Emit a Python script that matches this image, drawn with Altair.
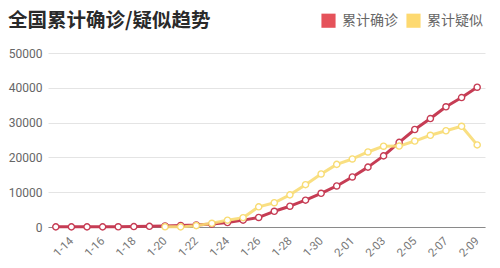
import altair as alt
import pandas as pd

dates = ["1-13", "1-14", "1-15", "1-16", "1-17", "1-18", "1-19", "1-20", "1-21", "1-22",
         "1-23", "1-24", "1-25", "1-26", "1-27", "1-28", "1-29", "1-30", "1-31",
         "2-01", "2-02", "2-03", "2-04", "2-05", "2-06", "2-07", "2-08", "2-09"]
confirmed = [41, 41, 41, 45, 62, 121, 198, 291, 440, 571, 830, 1287, 1975, 2744, 4515,
             5974, 7711, 9692, 11791, 14380, 17205, 20438, 24324, 28018, 31161, 34546,
             37198, 40171]
suspected = [None, None, None, None, None, None, None, 54, 37, 393, 1072, 1965, 2684,
             5794, 6973, 9239, 12167, 15238, 17988, 19544, 21558, 23214, 23260, 24702,
             26359, 27657, 28942, 23589]
series_names = ["累计确诊", "累计疑似"]
tick_dates = dates[1::2]
y_ticks = [0, 10000, 20000, 30000, 40000, 50000]

rows = []
for d, c, s in zip(dates, confirmed, suspected):
    rows.append({"date": d, "series": series_names[0], "value": c})
    if s is not None:
        rows.append({"date": d, "series": series_names[1], "value": s})
df = pd.DataFrame(rows)

line_colors = ["#c63c54", "#f8dc74"]
legend_colors = ["#e5525a", "#fdd561"]

x_enc = alt.X("date:O", sort=dates,
              scale=alt.Scale(type="point", padding=0.5),
              axis=alt.Axis(values=tick_dates, title=None, labelAngle=-45,
                            labelAlign="right", labelBaseline="middle",
                            labelPadding=12, ticks=False, domain=True,
                            domainColor="#8a8a8a", domainWidth=1.2,
                            labelColor="#777777", labelFontSize=11.5,
                            labelFont="Roboto", grid=False))
y_enc = alt.Y("value:Q", scale=alt.Scale(domain=[0, 50000], nice=False),
              axis=alt.Axis(values=y_ticks, title=None, ticks=False, domain=False,
                            labelColor="#666666", labelFontSize=12, labelFont="Roboto",
                            labelPadding=6, gridColor="#e4e4e4", format="d"))
stroke_enc = alt.Stroke("series:N", sort=series_names,
                        scale=alt.Scale(domain=series_names, range=line_colors),
                        legend=None)
fill_enc = alt.Fill("series:N", sort=series_names,
                    scale=alt.Scale(domain=series_names, range=legend_colors),
                    legend=alt.Legend(title=None, orient="none", legendX=273, legendY=-40,
                                      direction="horizontal", symbolType="square",
                                      symbolSize=200, symbolStrokeWidth=0,
                                      symbolOpacity=1,
                                      labelFontSize=14, labelColor="#666666",
                                      labelFont="Noto Sans CJK SC", columnPadding=8,
                                      labelOffset=6, padding=0))

base = alt.Chart(df).encode(x=x_enc, y=y_enc)

legend_layer = base.mark_square(size=0, opacity=0).encode(fill=fill_enc)
lines = base.mark_line(strokeWidth=3, strokeJoin="round").encode(
    stroke=stroke_enc,
    opacity=alt.Opacity("series:N", sort=series_names,
                        scale=alt.Scale(domain=series_names, range=[1.0, 0.9]),
                        legend=None))
points = base.mark_point(filled=True, fill="white", size=38, strokeWidth=1.4, opacity=1).encode(
    stroke=stroke_enc)

chart = alt.layer(legend_layer, lines, points).properties(
    width=437, height=174,
    padding={"left": 48, "top": 53, "right": 15, "bottom": 41},
    autosize=alt.AutoSizeParams(type="none"),
    title=alt.TitleParams("全国累计确诊/疑似趋势", anchor="start", frame="group",
                          dx=-40, offset=0, dy=18, fontSize=19.5, fontWeight="bold",
                          color="#2a2a2a", font="Noto Sans CJK SC"),
    background="white",
).configure_view(stroke=None)

chart.save("out.html", embed_options={"renderer": "svg", "actions": False})
